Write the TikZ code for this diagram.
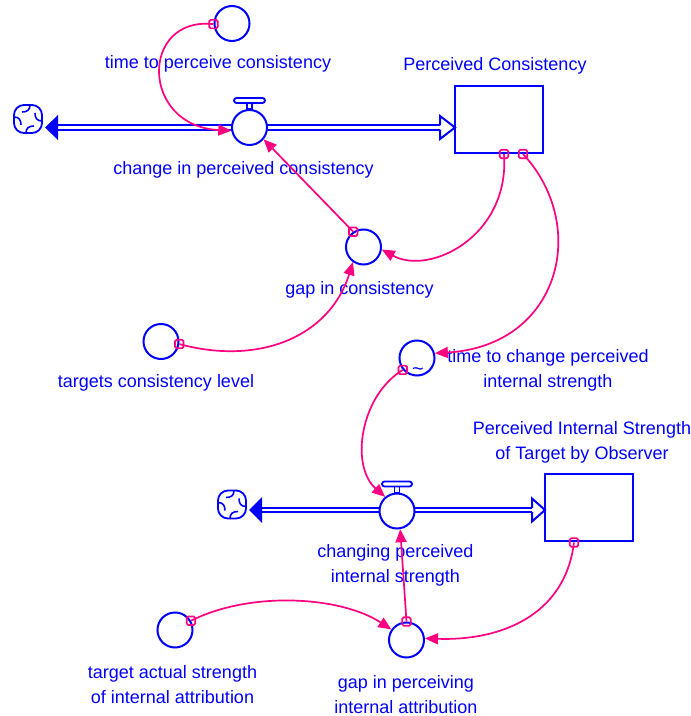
\documentclass[tikz,border=0pt]{standalone}
\usepackage{fontspec}
\setmainfont{Liberation Sans}
\usetikzlibrary{arrows.meta}
\definecolor{vblue}{RGB}{0,0,255}
\definecolor{vlink}{RGB}{255,0,128}
\tikzset{
  vcloud/.pic={
    \draw[vblue, line width=1.8pt, rounded corners=10pt] (-14,-14) rectangle (14,14);
    \foreach \a in {0,90,180,270}
      \draw[vblue, line width=1.6pt, rotate=\a] (2,14) .. controls (2,9) and (-1,7) .. (-6,7);
  }
}
\begin{document}
\begin{tikzpicture}[x=1pt,y=1pt,
  lbl/.style={text=vblue, font=\fontsize{18}{25}\selectfont, align=center, inner sep=0pt},
  aux/.style={circle, draw=vblue, line width=2pt, minimum size=35pt, inner sep=0pt, fill=white},
  stock/.style={rectangle, draw=vblue, line width=2pt, minimum width=88pt, minimum height=67pt, inner sep=0pt, fill=white},
  pipe/.style={draw=vblue, line width=2pt, double=white, double distance=2.4pt},
  sink/.style={fill=vblue},
  inflow/.style={draw=vblue, line width=2pt, fill=white, line join=miter},
  handle/.style={draw=vblue, line width=1.8pt, fill=white},
  tailsq/.style={rectangle, draw=vlink, line width=1.7pt, minimum size=8.5pt, inner sep=0pt, rounded corners=1.5pt},
  link/.style={draw=vlink, line width=1.7pt, -{Triangle[length=13pt,width=11pt]}},
]
\useasboundingbox (0,0) rectangle (691,716);

% stocks
\node[stock] (pc) at (499,596.5) {};
\node[lbl] (pcl) at (495,650) {Perceived Consistency};
\node[stock] (pis) at (588.5,208) {};
\node[lbl] (pisl) at (582,273.5) {Perceived Internal Strength\\of Target by Observer};

% clouds
\pic (cla) at (28,597) {vcloud};
\pic (clb) at (232,211.5) {vcloud};

% flow 1: pipe, heads, valve
\coordinate (p1s) at (58,588.5);
\coordinate (p1e) at (440,588.5);
\draw[pipe] (p1s) -- (p1e);
\fill[sink] (p1s) ++(-13,0) -- ++(13,12.5) -- ++(0,-25) -- cycle;
\draw[inflow] (p1e) ++(0,2.2) -- ++(0,9.3) -- ++(15,-11.5) -- ++(-15,-11.5) -- ++(0,9.3);
\node[aux] (v1) at (249.5,588.5) {};
\draw[handle] ([xshift=-2.5pt]v1.north) rectangle ([xshift=2.5pt,yshift=6pt]v1.north);
\draw[handle, rounded corners=2.5pt] ([xshift=-15.5pt,yshift=6pt]v1.north) rectangle ([xshift=15.5pt,yshift=11pt]v1.north);
\node[lbl] (v1l) at (243.5,546) {change in perceived consistency};

% flow 2: pipe, heads, valve
\coordinate (p2s) at (262,206);
\coordinate (p2e) at (532,206);
\draw[pipe] (p2s) -- (p2e);
\fill[sink] (p2s) ++(-13,0) -- ++(13,13) -- ++(0,-26) -- cycle;
\draw[inflow] (p2e) ++(0,2.2) -- ++(0,9.3) -- ++(13,-11.5) -- ++(-13,-11.5) -- ++(0,9.3);
\node[aux] (v2) at (397,205) {};
\draw[handle] ([xshift=-2.5pt]v2.north) rectangle ([xshift=2.5pt,yshift=6pt]v2.north);
\draw[handle, rounded corners=2.5pt] ([xshift=-15pt,yshift=6pt]v2.north) rectangle ([xshift=15pt,yshift=11pt]v2.north);
\node[lbl] (v2l) at (395.5,151) {changing perceived\\internal strength};

% auxiliaries
\node[aux] (tp) at (232,692.5) {};
\node[lbl] (tpl) at (218,652) {time to perceive consistency};
\node[aux] (gc) at (363.5,469) {};
\node[lbl] (gcl) at (359.5,426) {gap in consistency};
\node[aux] (tcl) at (161,374.5) {};
\node[lbl] (tcll) at (156,333) {targets consistency level};
\node[aux] (tch) at (417,358) {};
\node[text=vblue, font=\fontsize{20}{20}\selectfont, inner sep=0pt] (tchs) at (418,344) {\textasciitilde};
\node[lbl] (tchl) at (548,345.5) {time to change perceived\\internal strength};
\node[aux] (tas) at (175,86) {};
\node[lbl] (tasl) at (172.5,31.5) {target actual strength\\of internal attribution};
\node[aux] (gp) at (406.5,76) {};
\node[lbl] (gpl) at (406,21.5) {gap in perceiving\\internal attribution};

% link tails
\node[tailsq] (s1) at (tp.182) {};
\node[tailsq] (s2) at (gc.124) {};
\node[tailsq] (s3) at ([xshift=5pt]pc.south) {};
\node[tailsq] (s4) at ([xshift=24pt]pc.south) {};
\node[tailsq] (s5) at (tcl.-8) {};
\node[tailsq] (s6) at (tch.-140) {};
\node[tailsq] (s7) at (gp.90) {};
\node[tailsq] (s8) at ([xshift=-14.5pt]pis.south) {};
\node[tailsq] (s9) at (tas.30) {};

% links
\draw[link] (s1.center) .. controls (140,700) and (140,590) .. (v1.190);
\draw[link] (s2.center) -- (v1.-40);
\draw[link] (s3.center) .. controls (510,480) and (430,440) .. (gc.-8);
\draw[link] (s4.center) .. controls (590,490) and (560,370) .. (tch.15);
\draw[link] (s5.center) .. controls (260,350) and (330,380) .. (gc.-125);
\draw[link] (s6.center) .. controls (360,320) and (350,250) .. (v2.130);
\draw[link] (s7.center) -- (v2.-80);
\draw[link] (s8.center) .. controls (565,100) and (500,75) .. (gp.5);
\draw[link] (s9.center) .. controls (250,125) and (340,120) .. (gp.145);
\end{tikzpicture}
\end{document}
